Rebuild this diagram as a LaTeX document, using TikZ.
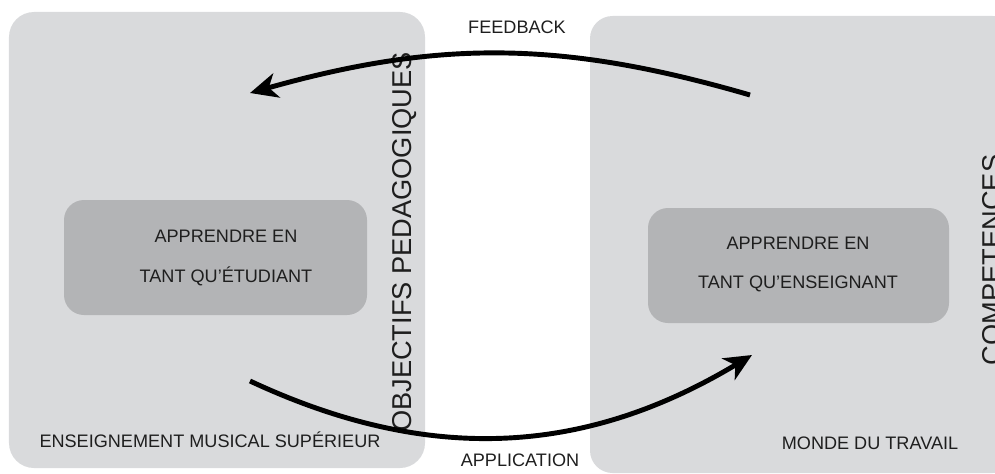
\documentclass[tikz,border=0pt]{standalone}
\usepackage{fontspec}
\setmainfont{Liberation Sans}
\usetikzlibrary{arrows.meta}

\definecolor{panneau}{RGB}{217,218,220}
\definecolor{cadre}{RGB}{179,180,182}
\definecolor{texte}{RGB}{30,30,30}

\tikzset{
	petit/.style={text=texte, font=\fontsize{10.3}{12.4}\selectfont, inner sep=0pt},
	grand/.style={text=texte, font=\fontsize{15.5}{18.6}\selectfont, inner sep=0pt, rotate=90},
	fleche/.style={line width=2.8pt, -{Stealth[length=5.5mm,width=5mm,inset=1.6mm]}}
}

\begin{document}
\begin{tikzpicture}
	\useasboundingbox (0,0) rectangle (19.9,9.46);
	\clip (0,0) rectangle (19.9,9.46);
	
	% les deux mondes
	\fill[panneau, rounded corners=0.5cm] (0.18,0.1) rectangle (8.5,9.22);
	\fill[panneau, rounded corners=0.45cm] (11.8,0) rectangle (20.3,9.14);
	
	\fill[cadre, rounded corners=0.4cm] (1.28,3.16) rectangle (7.34,5.46);
	\fill[cadre, rounded corners=0.4cm] (12.96,3.0) rectangle (18.98,5.3);
	
	\node[petit, align=center] (etudiant) at (4.52,4.3){APPRENDRE EN\\[10pt]TANT QU’ÉTUDIANT};
	\node[petit, align=center] (enseignant) at (15.96,4.17){APPRENDRE EN\\[10pt]TANT QU’ENSEIGNANT};
	
	\node[petit] (ems) at (4.2,0.66){ENSEIGNEMENT MUSICAL SUPÉRIEUR};
	\node[petit] (travail) at (17.4,0.6){MONDE DU TRAVAIL};
	
	\node[grand] (objectifs) at (8.1,4.62){OBJECTIFS PEDAGOGIQUES};
	\node[grand] (competences) at (19.84,4.26){COMPETENCES};
	
	\node[petit] (feedback) at (10.34,8.92){FEEDBACK};
	\node[petit] (application) at (10.4,0.26){APPLICATION};
	
	% fleches
	\coordinate (fbA) at (15.0,7.56);
	\coordinate (fbB) at (5.0,7.6);
	\coordinate (apA) at (5.0,1.84);
	\coordinate (apB) at (15.04,2.36);
	
	\draw[fleche] (fbA) to[bend right=16] (fbB);
	\draw[fleche] (apA) to[bend right=28] (apB);
\end{tikzpicture}
\end{document}
